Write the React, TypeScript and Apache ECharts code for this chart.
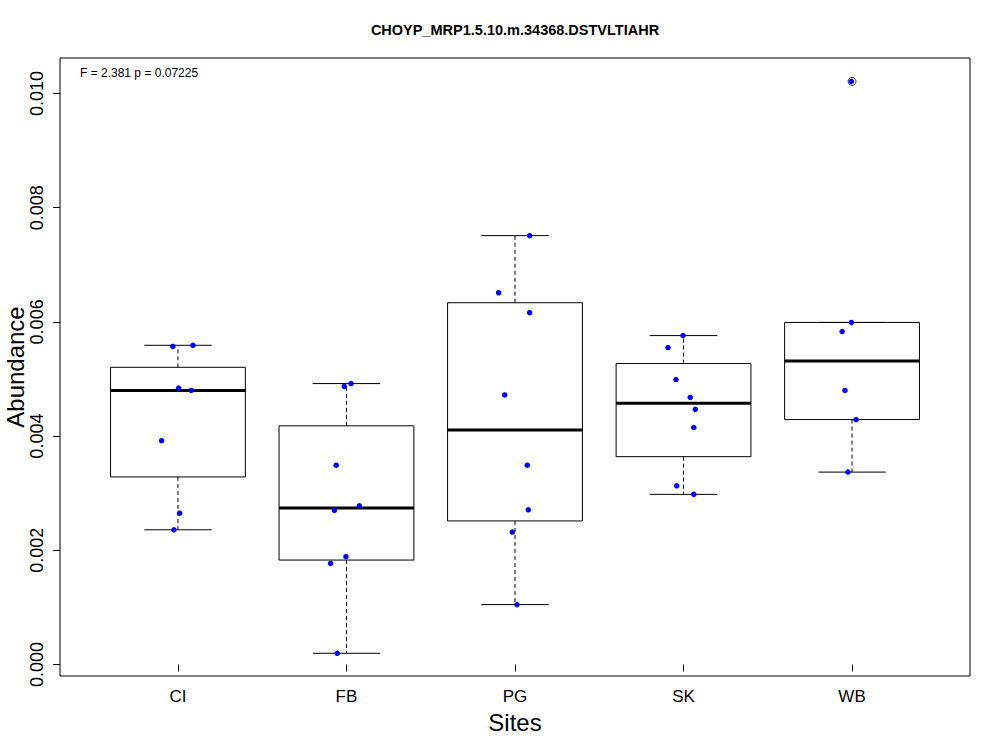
import React, { useEffect, useRef } from "react";
import * as echarts from "echarts";

const categories = ["CI", "FB", "PG", "SK", "WB"];

const ciValues = [0.00557, 0.00559, 0.00484, 0.0048, 0.00392, 0.00265, 0.00236];
const ciJitter = [-0.03, 0.089, 0.004, 0.079, -0.097, 0.01, -0.024];

const fbValues = [0.00492, 0.00487, 0.00349, 0.00278, 0.0027, 0.00189, 0.00177, 0.000198];
const fbJitter = [0.027, -0.013, -0.061, 0.076, -0.072, -0.003, -0.094, -0.055];

const pgValues = [0.00751, 0.00651, 0.00616, 0.00472, 0.00349, 0.00271, 0.00232, 0.00105];
const pgJitter = [0.087, -0.097, 0.087, -0.061, 0.073, 0.079, -0.016, 0.012];

const skValues = [0.00576, 0.00555, 0.00499, 0.00468, 0.00447, 0.00415, 0.00313, 0.00298];
const skJitter = [-0.003, -0.092, -0.045, 0.04, 0.07, 0.061, -0.04, 0.061];

const wbValues = [0.01021, 0.00599, 0.00583, 0.0048, 0.00429, 0.00337];
const wbJitter = [-0.004, -0.004, -0.059, -0.042, 0.024, -0.024];

const yTicks = [0, 0.002, 0.004, 0.006, 0.008, 0.01];
const xTicks = [1, 2, 3, 4, 5];

const titleText = "CHOYP_MRP1.5.10.m.34368.DSTVLTIAHR";
const statText = "F = 2.381 p = 0.07225";

const groups = [
  { values: ciValues, jitter: ciJitter },
  { values: fbValues, jitter: fbJitter },
  { values: pgValues, jitter: pgJitter },
  { values: skValues, jitter: skJitter },
  { values: wbValues, jitter: wbJitter },
];

function fivenum(arr: number[]) {
  const x = [...arr].sort((a, b) => a - b);
  const n = x.length;
  const n4 = Math.floor((n + 3) / 2) / 2;
  const d = [1, n4, (n + 1) / 2, n + 1 - n4, n];
  return d.map((di) => 0.5 * (x[Math.floor(di) - 1] + x[Math.ceil(di) - 1]));
}

function boxStats(arr: number[]) {
  const f = fivenum(arr);
  const iqr = f[3] - f[1];
  const loF = f[1] - 1.5 * iqr;
  const hiF = f[3] + 1.5 * iqr;
  const inside = arr.filter((v) => v >= loF && v <= hiF);
  const out = arr.filter((v) => v < loF || v > hiF);
  return { lo: Math.min(...inside), q1: f[1], med: f[2], q3: f[3], hi: Math.max(...inside), out };
}

const FONT = "'Liberation Sans', Arial, Helvetica, sans-serif";

export default function App() {
  const ref = useRef<HTMLDivElement>(null);
  useEffect(() => {
    if (!ref.current) return;
    const chart = echarts.init(ref.current, null, { renderer: "svg" });

    const boxData: number[][] = [];
    const outData: number[][] = [];
    const pointData: number[][] = [];
    groups.forEach((g, i) => {
      const s = boxStats(g.values);
      boxData.push([i + 1, s.lo, s.q1, s.med, s.q3, s.hi]);
      s.out.forEach((v) => outData.push([i + 1, v]));
      g.values.forEach((v, j) => pointData.push([i + 1 + g.jitter[j], v]));
    });

    chart.setOption({
      animation: false,
      backgroundColor: "#fff",
      grid: {
        left: 60,
        right: 30,
        top: 58,
        bottom: 74,
        show: true,
        borderColor: "#000",
        borderWidth: 1,
        backgroundColor: "transparent",
      },
      xAxis: {
        type: "value",
        min: 0.3,
        max: 5.7,
        splitLine: { show: false },
        axisLine: { show: false },
        axisTick: {
          show: true,
          length: 7,
          customValues: xTicks,
          lineStyle: { color: "#000", width: 1 },
        },
        axisLabel: {
          show: true,
          customValues: xTicks,
          margin: 12,
          fontSize: 17,
          fontFamily: FONT,
          color: "#000",
          formatter: (v: number) => categories[Math.round(v) - 1] ?? "",
        },
      },
      yAxis: {
        type: "value",
        min: -0.0002,
        max: 0.01062,
        splitLine: { show: false },
        axisLine: { show: false },
        axisTick: {
          show: true,
          length: 7,
          customValues: yTicks,
          lineStyle: { color: "#000", width: 1 },
        },
        axisLabel: {
          show: true,
          customValues: yTicks,
          rotate: 90,
          margin: 14,
          fontSize: 18,
          fontFamily: FONT,
          color: "#000",
          formatter: (v: number) => v.toFixed(3),
        },
      },
      graphic: [
        {
          type: "text",
          style: {
            text: titleText,
            x: 515,
            y: 30,
            align: "center",
            verticalAlign: "middle",
            font: `bold 14.5px ${FONT}`,
            fill: "#000",
          },
        },
        {
          type: "text",
          style: {
            text: statText,
            x: 80,
            y: 73,
            align: "left",
            verticalAlign: "middle",
            font: `12px ${FONT}`,
            fill: "#000",
          },
        },
        {
          type: "text",
          style: {
            text: "Sites",
            x: 515,
            y: 722,
            align: "center",
            verticalAlign: "middle",
            font: `24px ${FONT}`,
            fill: "#000",
          },
        },
        {
          type: "text",
          x: 15,
          y: 367,
          rotation: Math.PI / 2,
          style: {
            text: "Abundance",
            x: 0,
            y: 0,
            align: "center",
            verticalAlign: "middle",
            font: `24px ${FONT}`,
            fill: "#000",
          },
        },
      ],
      series: [
        {
          type: "custom",
          encode: { x: 0, y: [1, 2, 3, 4, 5] },
          data: boxData,
          z: 2,
          renderItem: (params: any, api: any) => {
            const x = api.value(0);
            const lo = api.value(1);
            const q1 = api.value(2);
            const med = api.value(3);
            const q3 = api.value(4);
            const hi = api.value(5);
            const tl = api.coord([x - 0.4, q3]);
            const br = api.coord([x + 0.4, q1]);
            const mL = api.coord([x - 0.4, med]);
            const mR = api.coord([x + 0.4, med]);
            const c = api.coord([x, 0]);
            const yLo = api.coord([x, lo])[1];
            const yHi = api.coord([x, hi])[1];
            const sL = api.coord([x - 0.2, lo])[0];
            const sR = api.coord([x + 0.2, lo])[0];
            const line = { stroke: "#000", lineWidth: 1 };
            const dash = { stroke: "#000", lineWidth: 1, lineDash: [4, 3] };
            return {
              type: "group",
              children: [
                { type: "line", shape: { x1: c[0], y1: tl[1], x2: c[0], y2: yHi }, style: dash },
                { type: "line", shape: { x1: c[0], y1: br[1], x2: c[0], y2: yLo }, style: dash },
                { type: "line", shape: { x1: sL, y1: yHi, x2: sR, y2: yHi }, style: line },
                { type: "line", shape: { x1: sL, y1: yLo, x2: sR, y2: yLo }, style: line },
                {
                  type: "rect",
                  shape: { x: tl[0], y: tl[1], width: br[0] - tl[0], height: br[1] - tl[1] },
                  style: { fill: "none", stroke: "#000", lineWidth: 1 },
                },
                { type: "line", shape: { x1: mL[0], y1: mL[1], x2: mR[0], y2: mR[1] }, style: { stroke: "#000", lineWidth: 3 } },
              ],
            };
          },
        },
        {
          type: "scatter",
          data: outData,
          symbol: "circle",
          symbolSize: 8,
          itemStyle: { color: "#fff", borderColor: "#333", borderWidth: 1, opacity: 1 },
          z: 3,
        },
        {
          type: "scatter",
          data: pointData,
          symbol: "circle",
          symbolSize: 5.5,
          itemStyle: { color: "#0000FF", opacity: 1 },
          z: 4,
        },
      ],
    });
    return () => chart.dispose();
  }, []);
  return (
    <div
      ref={ref}
      style={{ width: 1000, height: 750, position: "absolute", left: 0, top: 0 }}
    />
  );
}
